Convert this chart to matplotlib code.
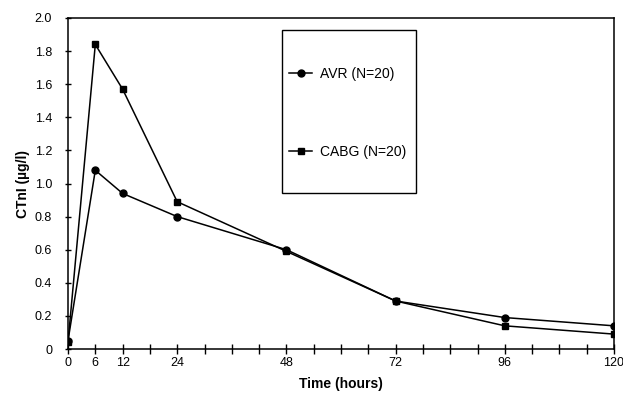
import matplotlib
matplotlib.use("Agg")
import matplotlib.pyplot as plt
from matplotlib.patches import Rectangle
from matplotlib.ticker import FixedLocator, FuncFormatter

plt.rcParams['font.family'] = ['Liberation Sans', 'DejaVu Sans']

hours = [0, 6, 12, 24, 48, 72, 96, 120]
avr = [0.05, 1.08, 0.94, 0.80, 0.60, 0.29, 0.19, 0.14]
cabg = [0.04, 1.84, 1.57, 0.89, 0.59, 0.29, 0.14, 0.09]
x_labels = [0, 6, 12, 24, 48, 72, 96, 120]
y_ticks = [0, 0.2, 0.4, 0.6, 0.8, 1.0, 1.2, 1.4, 1.6, 1.8, 2.0]

fig = plt.figure(figsize=(6.23, 3.94), dpi=100)
ax = fig.add_axes([68/623, 1 - 349/394, 546/623, 331/394])

ax.plot(hours, avr, color='black', lw=1.1, marker='o', ms=5, label='AVR (N=20)')
ax.plot(hours, cabg, color='black', lw=1.1, marker='s', ms=5, label='CABG (N=20)')

ax.set_xlim(0, 120)
ax.set_ylim(0, 2.0)
ax.xaxis.set_major_locator(FixedLocator(x_labels))
ax.xaxis.set_minor_locator(FixedLocator(list(range(0, 121, 6))))
ax.yaxis.set_major_locator(FixedLocator(y_ticks))
ax.yaxis.set_major_formatter(FuncFormatter(lambda v, p: '0' if v == 0 else f'{v:.1f}'))
ax.tick_params(axis='x', which='both', direction='inout', length=7, width=1, labelsize=9, pad=2)
ax.tick_params(axis='y', which='major', direction='inout', length=5, width=1, labelsize=9, pad=9)
for s in ax.spines.values():
    s.set_linewidth(1.1)

ax.set_xlabel('Time (hours)', fontsize=10, fontweight='bold', labelpad=6)
ax.set_ylabel('CTnI (µg/l)', fontsize=10, fontweight='bold', labelpad=3)

# legend frame drawn separately, entries placed inside it
ax.add_patch(Rectangle((0.392, 0.471), 0.245, 0.493, transform=ax.transAxes,
                       fill=False, edgecolor='black', lw=1.0, zorder=3))
leg = ax.legend(loc='upper left', bbox_to_anchor=(0.405, 0.851),
                fontsize=10, frameon=False, borderpad=0, labelspacing=4.6,
                handlelength=1.65, handletextpad=0.6, borderaxespad=0)

fig.savefig('out.png', dpi=100)
